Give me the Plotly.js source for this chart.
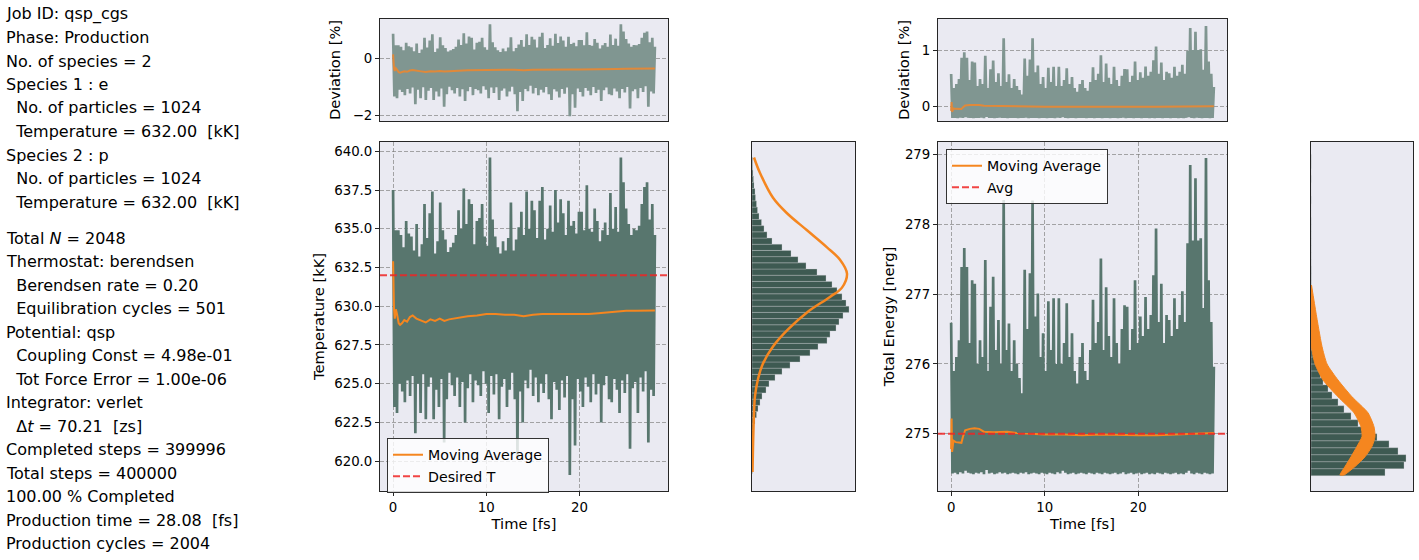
<!DOCTYPE html>
<html><head><meta charset="utf-8">
<script src="https://cdn.plot.ly/plotly-3.0.1.min.js"></script>
<style>html,body{margin:0;padding:0;background:#fff}#chart{width:1419px;height:560px}</style>
</head><body><div id="chart"></div>
<script>
// ---------------- DATA ----------------
const infoBlock1 = [
  "Job ID: qsp_cgs",
  "Phase: Production",
  "No. of species = 2",
  "Species 1 : e",
  "\u00a0\u00a0No. of particles = 1024",
  "\u00a0\u00a0Temperature = 632.00\u00a0\u00a0[kK]",
  "Species 2 : p",
  "\u00a0\u00a0No. of particles = 1024",
  "\u00a0\u00a0Temperature = 632.00\u00a0\u00a0[kK]"
];
const infoBlock2 = [
  "Total <i>N</i> = 2048",
  "Thermostat: berendsen",
  "\u00a0\u00a0Berendsen rate = 0.20",
  "\u00a0\u00a0Equilibration cycles = 501",
  "Potential: qsp",
  "\u00a0\u00a0Coupling Const = 4.98e-01",
  "\u00a0\u00a0Tot Force Error = 1.00e-06",
  "Integrator: verlet",
  "\u00a0\u00a0\u0394<i>t</i> = 70.21\u00a0\u00a0[zs]",
  "Completed steps = 399996",
  "Total steps = 400000",
  "100.00 % Completed",
  "Production time = 28.08\u00a0\u00a0[fs]",
  "Production cycles = 2004"
];

const productionTime = 28.08;   // fs
const desiredT = 632.0;         // kK
const energyMean = 275.0;       // nerg

// local maxima / minima of the temperature trace (sampled alternately)
const tempHigh = [637.5,634.9,634.9,634.6,633.8,635.5,634.7,634.5,633.6,635.3,
 633.2,634.0,636.6,634.4,636.0,637.4,633.4,634.2,636.7,634.9,
 634.3,633.5,633.8,634.1,634.6,636.2,635.0,637.6,635.3,636.9,
 636.6,634.0,635.5,635.7,636.6,634.5,633.9,639.6,635.6,634.5,
 633.8,633.4,634.2,633.6,634.4,636.7,633.6,634.3,635.1,636.1,
 634.6,637.4,635.0,636.8,636.2,634.4,636.8,637.7,634.3,635.0,
 636.5,634.8,637.5,635.4,636.9,636.0,634.6,636.8,635.2,635.5,
 634.7,636.1,636.1,634.9,637.8,635.0,634.8,636.3,635.5,634.2,
 634.9,635.4,634.6,637.3,635.0,636.4,634.8,639.6,638.0,636.3,
 635.3,634.6,635.0,634.9,635.2,636.6,637.7,638.0,635.6,636.6,
 634.6];
const tempLow = [623.5,623.1,625.0,624.5,623.8,625.2,624.2,625.5,621.8,625.0,
 623.1,625.6,622.7,624.8,625.4,622.7,624.6,623.5,625.3,621.2,
 624.0,625.7,624.9,624.2,625.4,623.5,625.1,622.5,624.7,625.6,
 623.8,625.2,624.9,624.2,625.8,625.0,623.1,625.5,624.3,625.6,
 622.7,624.8,625.3,623.5,624.6,625.7,624.0,620.2,624.5,622.5,
 625.2,624.7,625.9,624.2,625.4,623.8,625.0,624.4,625.6,624.0,
 622.7,625.1,624.6,623.3,625.2,624.1,625.5,619.1,624.0,621.0,
 625.3,624.5,623.5,625.4,624.8,623.8,625.6,624.3,625.0,622.5,
 624.9,625.5,624.0,623.8,625.3,624.6,623.1,625.2,624.4,625.6,
 620.8,624.7,625.1,623.1,625.4,624.5,625.8,621.2,624.6,624.2];

const tempAvgTime = [0,0.05,0.1,0.18,0.3,0.45,0.6,0.75,0.95,1.2,
 1.5,1.8,2.1,2.5,3.0,3.5,4.0,4.5,5.0,5.5,
 6,7,8,9,10,11,12,13,14,15,
 16,17,18,19,20,21,22,23,24,25,
 26,27,28.08];
const tempAvg = [632.9,630.5,629.8,629.2,629.8,629.4,628.9,628.8,628.9,629.1,
 629.0,629.3,629.4,629.2,629.1,628.95,629.15,629.05,629.2,629.05,
 629.15,629.25,629.35,629.4,629.5,629.5,629.45,629.45,629.35,629.45,
 629.5,629.5,629.5,629.5,629.5,629.5,629.55,629.6,629.65,629.7,
 629.7,629.72,629.73];

// temperature histogram (bin start, bin width, counts ascending)
const tempBinStart = 619.2, tempBinWidth = 0.4;
const tempCounts = [0.3,0.4,0.5,0.7,1,1,1.5,2,3,4.5,
 6,8,10,14,17,23,30,38,48,58,
 66,75,78,84,87,91,97,94,90,85,
 80,74,65,54,46,39,30,20,15,12,
 9.5,7,5.5,4.5,3.5,3,2,1.5,1,0.5,0.5];
// theoretical distribution (orange)
const tempFitT = [619.3,620.9,623.1,624.2,625.3,626.3,627.4,628.5,629.6,630.6,631.2,632.1,633.0,633.8,634.9,636.0,637.0,638.6,639.6];
const tempFitW = [0.5,1,2,3,6,11,21,36,55,78,90,95,88,75,55,35,21,8,2];

// energy trace
const energyHigh = [276.59,275.9,276.1,276.34,277.39,277.66,277.39,276.3,277.2,277.15,
 276.0,276.34,276.1,277.49,275.9,276.82,277.25,276.2,276.63,276.0,
 278.35,276.2,276.58,275.9,276.34,276.0,275.8,275.58,277.35,276.5,
 277.3,278.34,276.68,277.01,276.1,276.44,275.9,276.9,276.2,276.94,
 276.0,276.94,276.0,276.3,276.87,276.1,276.44,275.9,275.72,276.1,
 276.3,275.9,275.77,276.2,276.92,276.3,276.6,277.51,276.2,277.1,
 276.4,276.1,276.94,276.3,276.0,276.5,276.84,276.82,276.2,276.5,
 277.2,276.3,276.68,276.4,276.96,276.5,276.7,277.27,277.94,276.6,
 277.15,276.3,276.7,276.63,276.4,276.94,276.5,276.7,277.04,276.6,
 277.73,278.85,277.77,278.66,277.77,277.8,276.8,278.95,277.2,276.6,
 275.96];
const energyLow = [274.43,274.44,274.42,274.45,274.43,274.47,274.44,274.43,274.42,274.44,
 274.43,274.45,274.42,274.48,274.43,274.44,274.42,274.43,274.45,274.43,
 274.44,274.42,274.43,274.44,274.43,274.42,274.44,274.43,274.45,274.42,
 274.43,274.44,274.43,274.42,274.44,274.43,274.42,274.44,274.43,274.42,
 274.45,274.43,274.47,274.44,274.42,274.43,274.44,274.42,274.43,274.44,
 274.43,274.42,274.44,274.43,274.42,274.44,274.43,274.42,274.44,274.43,
 274.42,274.43,274.44,274.42,274.43,274.45,274.42,274.43,274.44,274.42,
 274.43,274.44,274.42,274.43,274.44,274.42,274.43,274.42,274.44,274.43,
 274.42,274.44,274.43,274.42,274.43,274.44,274.42,274.43,274.42,274.44,
 274.47,274.43,274.42,274.44,274.43,274.42,274.44,274.43,274.42,274.43];

const energyAvgTime = [0,0.05,0.1,0.25,0.5,0.8,1.1,1.25,1.5,2.0,
 2.5,3.0,3.5,4.5,6.0,7.0,8.0,10,12,14,
 16,18,20,22,24,25.5,27,28.08];
const energyAvg = [274.78,275.22,274.74,274.9,274.88,274.87,274.87,274.95,275.05,275.07,
 275.08,275.07,275.03,275.02,275.03,275.01,275.0,274.99,274.99,274.98,
 274.99,274.98,274.98,274.98,274.99,275.0,275.01,275.01];

const energyBinStart = 274.4, energyBinWidth = 0.1;
const energyCounts = [74,93,95,87,78,66,57,47,40,33,
 27,21,17,12,9.5,7.5,5.5,2,0.8,0.6,
 0.5,0.4,0.4,0.3,0.3,0.3,0.2,0.2,0.2,0.2,
 0.1,0.1,0.1,0.1,0.1,0.1,0.1,0,0,0.1,
 0,0,0.1,0,0.1,0.1];
const energyFitE  = [277.13,276.73,276.48,276.25,276.0,275.77,275.53,275.3,275.1,274.96,274.82,274.67,274.53,274.41];
const energyFitLo = [0,0,0,0.5,4,12,27,43,50,51,46,40,34,29];
const energyFitHi = [0.5,5,8,11,16,27,41,57,63,64,61,54,44,33];

// ---------------- BUILD ----------------
function interleave(high, low) {
  const dt = productionTime / (high.length - 1);
  const x = [], y = [];
  for (let i = 0; i < high.length; i++) {
    x.push(i * dt); y.push(high[i]);
    if (i < low.length) { x.push((i + 0.5) * dt); y.push(low[i]); }
  }
  return {x, y};
}
const pct = (arr, ref) => arr.map(v => (v - ref) / ref * 100);
const centers = (start, w, n) => Array.from({length: n}, (_, i) => start + (i + 0.5) * w);

const T = interleave(tempHigh, tempLow);
const E = interleave(energyHigh, energyLow);

const W = 1419, H = 560;
const px = v => v / W, py = v => 1 - v / H;
const xRange = [-1.404, 29.484];

const cMain = '#58766e', cDev = '#809691', cOrange = '#f5861f', cRed = 'rgba(238,36,36,0.85)', cBar = '#3e5a52';
const seriesLine = c => ({color: c, width: 2.7, simplify: false});

const traces = [
  {x: T.x, y: pct(T.y, desiredT), xaxis: 'x', yaxis: 'y', type: 'scatter', mode: 'lines', line: seriesLine(cDev), showlegend: false},
  {x: tempAvgTime, y: pct(tempAvg, desiredT), xaxis: 'x', yaxis: 'y', type: 'scatter', mode: 'lines', line: {color: '#e0893a', width: 2}, showlegend: false},
  {x: T.x, y: T.y, xaxis: 'x2', yaxis: 'y2', type: 'scatter', mode: 'lines', line: seriesLine(cMain), showlegend: false},
  {x: tempAvgTime, y: tempAvg, xaxis: 'x2', yaxis: 'y2', type: 'scatter', mode: 'lines', line: {color: cOrange, width: 2}, name: 'Moving Average', showlegend: true, legend: 'legend'},
  {x: xRange, y: [desiredT, desiredT], xaxis: 'x2', yaxis: 'y2', type: 'scatter', mode: 'lines', line: {color: cRed, width: 2, dash: '7px,3px'}, name: 'Desired T', showlegend: true, legend: 'legend'},
  {y: centers(tempBinStart, tempBinWidth, tempCounts.length), x: tempCounts, xaxis: 'x3', yaxis: 'y3', type: 'bar', orientation: 'h', width: tempBinWidth,
   marker: {color: cBar, line: {color: 'rgba(200,205,208,0.8)', width: 0.4}}, showlegend: false},
  {x: tempFitW, y: tempFitT, xaxis: 'x3', yaxis: 'y3', type: 'scatter', mode: 'lines', line: {color: cOrange, width: 2.5, shape: 'spline', smoothing: 1}, showlegend: false},

  {x: E.x, y: pct(E.y, energyMean), xaxis: 'x4', yaxis: 'y4', type: 'scatter', mode: 'lines', line: seriesLine(cDev), showlegend: false},
  {x: energyAvgTime, y: pct(energyAvg, energyMean), xaxis: 'x4', yaxis: 'y4', type: 'scatter', mode: 'lines', line: {color: '#e0893a', width: 2}, showlegend: false},
  {x: E.x, y: E.y, xaxis: 'x5', yaxis: 'y5', type: 'scatter', mode: 'lines', line: seriesLine(cMain), showlegend: false},
  {x: energyAvgTime, y: energyAvg, xaxis: 'x5', yaxis: 'y5', type: 'scatter', mode: 'lines', line: {color: cOrange, width: 2}, name: 'Moving Average', showlegend: true, legend: 'legend2'},
  {x: xRange, y: [energyMean, energyMean], xaxis: 'x5', yaxis: 'y5', type: 'scatter', mode: 'lines', line: {color: cRed, width: 2, dash: '7px,3px'}, name: 'Avg', showlegend: true, legend: 'legend2'},
  {y: centers(energyBinStart, energyBinWidth, energyCounts.length), x: energyCounts, xaxis: 'x6', yaxis: 'y6', type: 'bar', orientation: 'h', width: energyBinWidth,
   marker: {color: cBar, line: {color: 'rgba(200,205,208,0.8)', width: 0.4}}, showlegend: false},
  {x: energyFitLo.concat(energyFitHi.slice().reverse()), y: energyFitE.concat(energyFitE.slice().reverse()), xaxis: 'x6', yaxis: 'y6',
   type: 'scatter', mode: 'lines', fill: 'toself', fillcolor: cOrange, line: {color: cOrange, width: 1, shape: 'spline', smoothing: 0.6}, showlegend: false}
];

const frame = {showline: true, mirror: true, linecolor: '#262626', linewidth: 1, zeroline: false, automargin: false};
const grid = {showgrid: true, gridcolor: 'rgba(120,120,120,0.8)', gridwidth: 0.8, griddash: '4px,2px'};
const ticks = {ticks: 'outside', ticklen: 4, tickwidth: 1, tickcolor: '#262626', tickfont: {size: 13.33, color: '#000'}};
const noTicks = {showticklabels: false, ticks: '', showgrid: false};
const titleFont = {size: 14.67, color: '#000'};

const tempX = [px(380), px(668)], tempHX = [px(752), px(855)];
const enX = [px(938), px(1227)], enHX = [px(1311), px(1413)];
const devY = [py(121), py(19)], mainY = [py(491), py(142)];
const tempYR = [618.07, 640.6], enYR = [274.18, 279.18];

const annotations = [];
const infoStyle = {xref: 'paper', yref: 'paper', xanchor: 'left', yanchor: 'middle', showarrow: false, borderpad: 0, font: {size: 16, color: '#000'}};
infoBlock1.forEach((t, i) => annotations.push(Object.assign({text: t, x: px(5), y: py(14 + 23.5 * i)}, infoStyle)));
infoBlock2.forEach((t, i) => annotations.push(Object.assign({text: t, x: px(5), y: py(238 + 23.5 * i)}, infoStyle)));

const legendStyle = {xanchor: 'left', yanchor: 'top', bgcolor: 'rgba(255,255,255,0.8)', bordercolor: '#333', borderwidth: 1,
  font: {size: 14.2, color: '#000'}, tracegroupgap: 0};

const layout = {
  width: W, height: H,
  margin: {l: 0, r: 0, t: 0, b: 0, pad: 0},
  paper_bgcolor: '#ffffff', plot_bgcolor: '#EAEAF2',
  font: {family: 'DejaVu Sans, sans-serif', color: '#000'},
  showlegend: true,
  xaxis:  Object.assign({}, frame, noTicks, {domain: tempX, anchor: 'y', range: xRange}),
  yaxis:  Object.assign({}, frame, ticks, grid, {domain: devY, anchor: 'x', range: [-2.21, 1.39], tickvals: [-2, 0],
          title: {text: 'Deviation [%]', font: titleFont, standoff: 8}}),
  xaxis2: Object.assign({}, frame, ticks, grid, {domain: tempX, anchor: 'y2', range: xRange, tickvals: [0, 10, 20],
          title: {text: 'Time [fs]', font: titleFont, standoff: 3}}),
  yaxis2: Object.assign({}, frame, ticks, grid, {domain: mainY, anchor: 'x2', range: tempYR, dtick: 2.5, tick0: 620, tickformat: '.1f',
          title: {text: 'Temperature [kK]', font: titleFont, standoff: 6}}),
  xaxis3: Object.assign({}, frame, noTicks, {domain: tempHX, anchor: 'y3', range: [0, 103]}),
  yaxis3: Object.assign({}, frame, noTicks, {domain: mainY, anchor: 'x3', range: tempYR}),
  xaxis4: Object.assign({}, frame, noTicks, {domain: enX, anchor: 'y4', range: xRange}),
  yaxis4: Object.assign({}, frame, ticks, grid, {domain: devY, anchor: 'x4', range: [-0.26, 1.56], tickvals: [0, 1],
          title: {text: 'Deviation [%]', font: titleFont, standoff: 8}}),
  xaxis5: Object.assign({}, frame, ticks, grid, {domain: enX, anchor: 'y5', range: xRange, tickvals: [0, 10, 20],
          title: {text: 'Time [fs]', font: titleFont, standoff: 3}}),
  yaxis5: Object.assign({}, frame, ticks, grid, {domain: mainY, anchor: 'x5', range: enYR, tickvals: [275, 276, 277, 278, 279],
          title: {text: 'Total Energy [nerg]', font: titleFont, standoff: 6}}),
  xaxis6: Object.assign({}, frame, noTicks, {domain: enHX, anchor: 'y6', range: [0, 102]}),
  yaxis6: Object.assign({}, frame, noTicks, {domain: mainY, anchor: 'x6', range: enYR}),
  legend:  Object.assign({x: px(387), y: py(438)}, legendStyle),
  legend2: Object.assign({x: px(946), y: py(149)}, legendStyle),
  annotations: annotations
};

Plotly.newPlot('chart', traces, layout, {staticPlot: true, displayModeBar: false});
</script></body></html>
